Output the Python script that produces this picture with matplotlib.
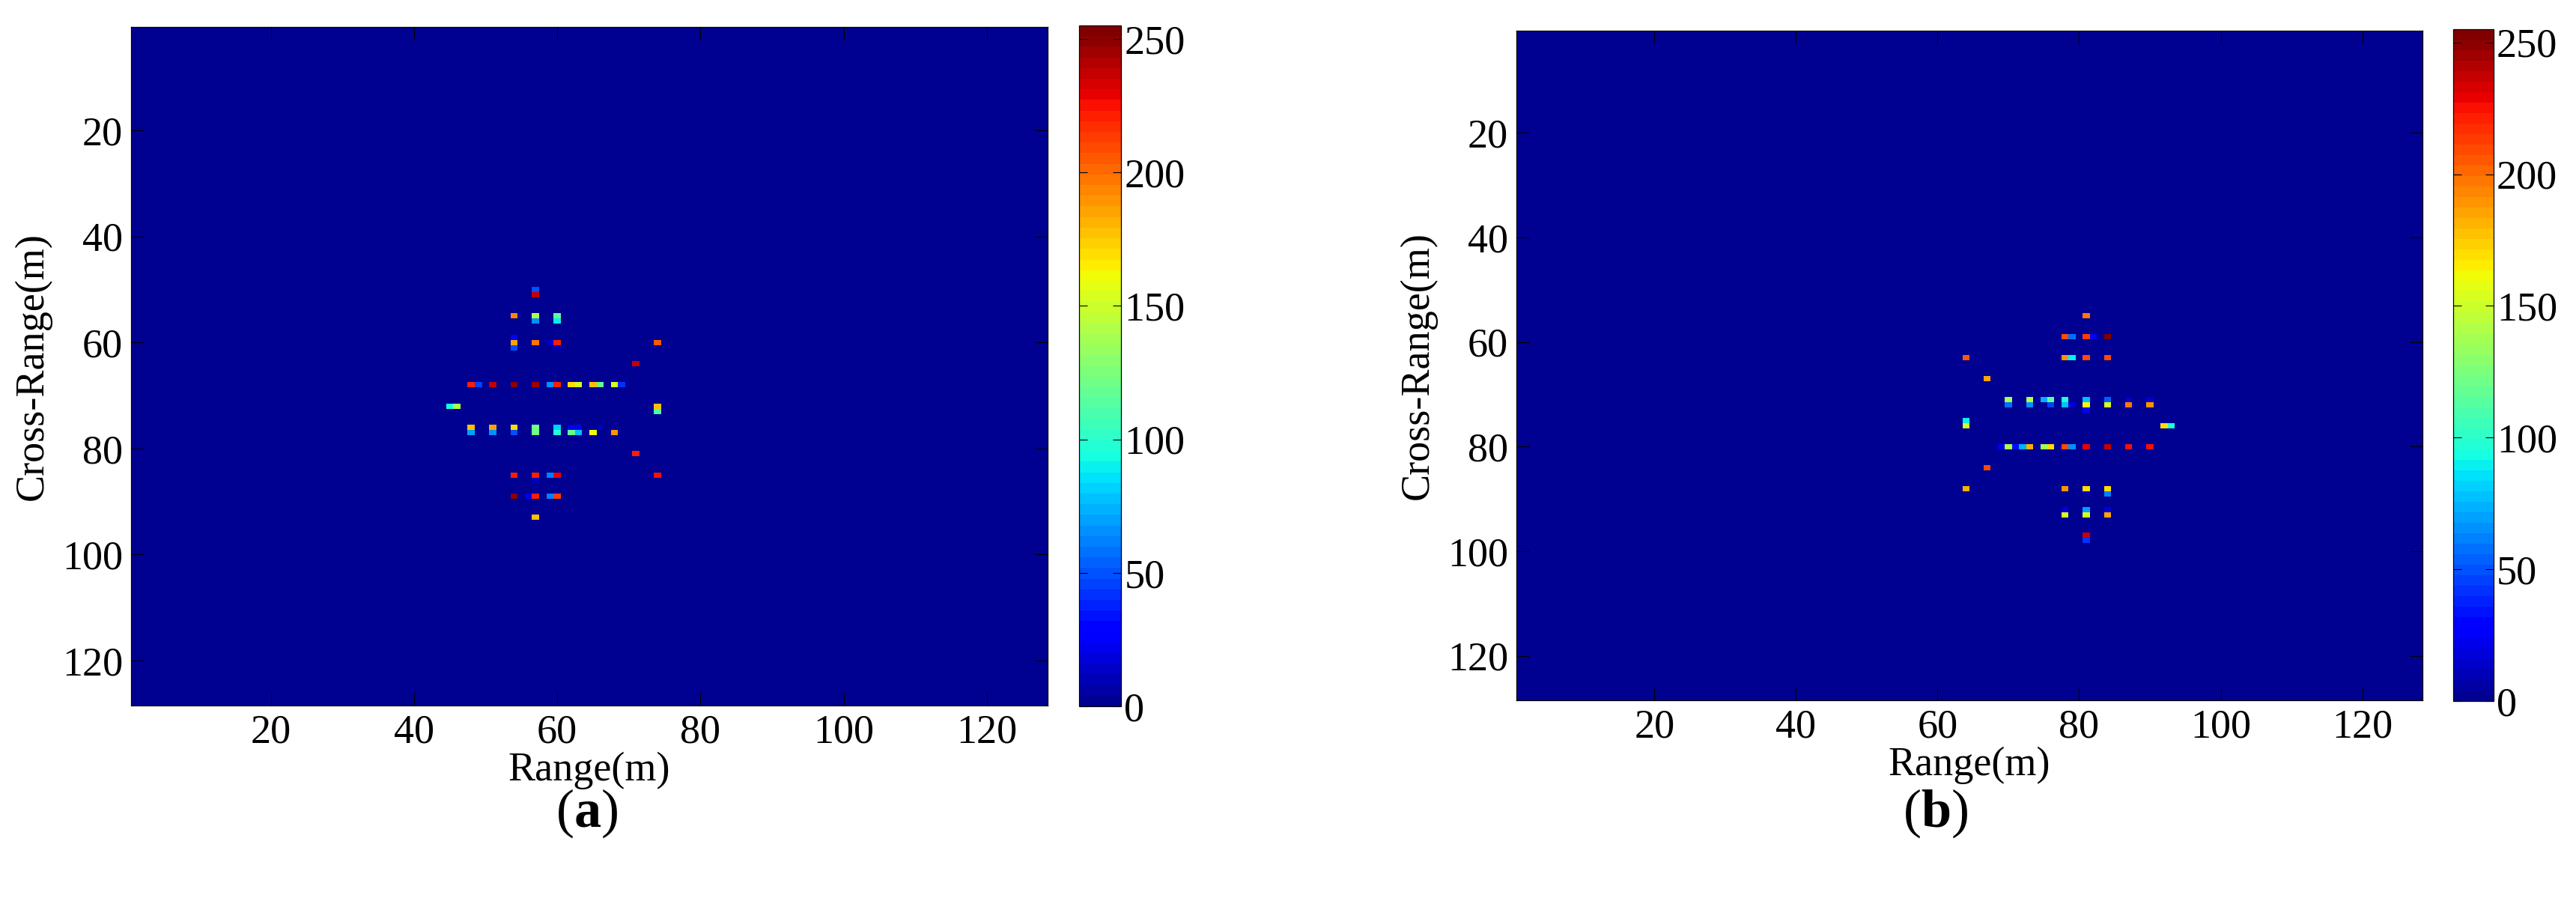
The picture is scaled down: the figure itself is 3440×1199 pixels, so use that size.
import numpy as np
import matplotlib
matplotlib.use("Agg")
import matplotlib.pyplot as plt
from matplotlib.colors import ListedColormap

plt.rcParams['font.family'] = ['Liberation Serif', 'DejaVu Serif']
plt.rcParams['mathtext.fontset'] = 'custom'
plt.rcParams['mathtext.rm'] = 'Liberation Serif'
plt.rcParams['mathtext.bf'] = 'Liberation Serif:bold'

N = 128
ticks = [20, 40, 60, 80, 100, 120]
cbar_ticks = [0, 50, 100, 150, 200, 250]

# panel (a): non-zero cells, row (cross-range), col (range), value
a_rows = [50, 51,
          55, 55, 55, 56, 56, 59,
          60, 60, 60, 60, 60, 61, 61, 64,
          68, 68, 68, 68, 68, 68, 68, 68, 68, 68, 68, 68, 68,
          72, 72, 72, 73,
          76, 76, 76, 76, 76, 76, 76, 76,
          77, 77, 77, 77, 77, 77, 77, 77, 77,
          81, 85, 85, 85, 85, 85, 86,
          89, 89, 89, 89, 89, 93]
a_cols = [57, 57,
          54, 57, 60, 57, 60, 54,
          54, 57, 59, 60, 74, 54, 60, 71,
          48, 49, 51, 54, 57, 59, 60, 62, 63, 65, 66, 68, 69,
          45, 46, 74, 74,
          48, 51, 54, 57, 60, 62, 63, 66,
          48, 51, 54, 57, 60, 62, 63, 65, 68,
          71, 54, 57, 59, 60, 74, 57,
          54, 56, 57, 59, 60, 57]
a_vals = [48, 239,
          195, 140, 116, 64, 88, 24,
          185, 199, 12, 223, 207, 48, 8, 238,
          223, 44, 239, 251, 247, 64, 223, 169, 155, 177, 116, 155, 40,
          95, 143, 177, 108,
          178, 187, 169, 120, 80, 20, 20, 8,
          68, 64, 48, 120, 96, 116, 76, 163, 191,
          220, 223, 223, 60, 231, 226, 8,
          251, 20, 220, 60, 215, 178]

# panel (b)
b_rows = [55,
          59, 59, 59, 59, 59,
          63, 63, 63, 63, 63, 67,
          71, 71, 71, 71, 71, 71, 71, 71, 71,
          72, 72, 72, 72, 72, 72, 72, 72, 72, 73,
          75, 76, 76, 76,
          80, 80, 80, 80, 80, 80, 80, 80, 80, 80, 80, 80, 80, 80,
          84, 88, 88, 88, 88, 89, 89,
          92, 92, 92, 93, 93, 93, 97, 98]
b_cols = [81,
          78, 79, 81, 82, 84,
          64, 78, 79, 81, 84, 67,
          70, 73, 75, 76, 78, 81, 84, 87, 90,
          70, 73, 76, 78, 79, 81, 84, 87, 90, 81,
          64, 64, 92, 93,
          69, 70, 71, 72, 73, 75, 76, 78, 79, 81, 84, 87, 89, 90,
          67, 64, 78, 81, 84, 81, 84,
          78, 81, 84, 78, 81, 84, 81, 81]
b_vals = [197,
          211, 56, 215, 28, 255,
          207, 191, 88, 211, 211, 187,
          136, 140, 72, 116, 96, 76, 52, 12, 12,
          56, 64, 44, 76, 16, 160, 155, 199, 191, 28,
          88, 155, 171, 99,
          20, 140, 34, 72, 183, 136, 169, 211, 64, 231, 239, 226, 4, 226,
          211, 183, 191, 169, 171, 8, 60,
          16, 68, 16, 155, 152, 187, 236, 40]

# 64-level jet like the MATLAB default
cmap = ListedColormap(plt.cm.jet(np.arange(1, 65) / 64))


def make_img(rows, cols, vals):
    img = np.zeros((N, N))
    img[np.array(rows) - 1, np.array(cols) - 1] = vals
    return img


fs = 39
fig = plt.figure(figsize=(34.41, 11.99), dpi=100)

panels = [(a_rows, a_cols, a_vals, [0.0509, 0.2143, 0.3557, 0.7556],
           [0.4188, 0.2135, 0.0163, 0.7581], 0.2276, r'($\mathbf{a}$)'),
          (b_rows, b_cols, b_vals, [0.5885, 0.2202, 0.3516, 0.7456],
           [0.9520, 0.2193, 0.0157, 0.7481], 0.7512, r'($\mathbf{b}$)')]

for rows, cols, vals, pos, cpos, lx, lab in panels:
    ax = fig.add_axes(pos)
    im = ax.imshow(make_img(rows, cols, vals), cmap=cmap, vmin=0, vmax=255,
                   extent=(0.5, N + 0.5, N + 0.5, 0.5), aspect='auto',
                   interpolation='nearest')
    ax.set_xticks(ticks)
    ax.set_yticks(ticks)
    ax.tick_params(direction='in', length=12, width=0.8, top=True, right=True,
                   labelsize=fs, pad=8)
    for s in ax.spines.values():
        s.set_linewidth(0.9)
    ax.set_xlabel('Range(m)', fontsize=fs, labelpad=0)
    ax.set_ylabel('Cross-Range(m)', fontsize=fs, labelpad=10)

    cax = fig.add_axes(cpos)
    cb = fig.colorbar(im, cax=cax, ticks=cbar_ticks)
    cb.outline.set_linewidth(0.9)
    cb.ax.tick_params(direction='in', length=8, width=0.8, left=True, right=True,
                      labelsize=fs, pad=3)

    fig.text(lx, 0.094, lab, ha='center', va='center', fontsize=52)

fig.savefig('out.png', dpi=100)
